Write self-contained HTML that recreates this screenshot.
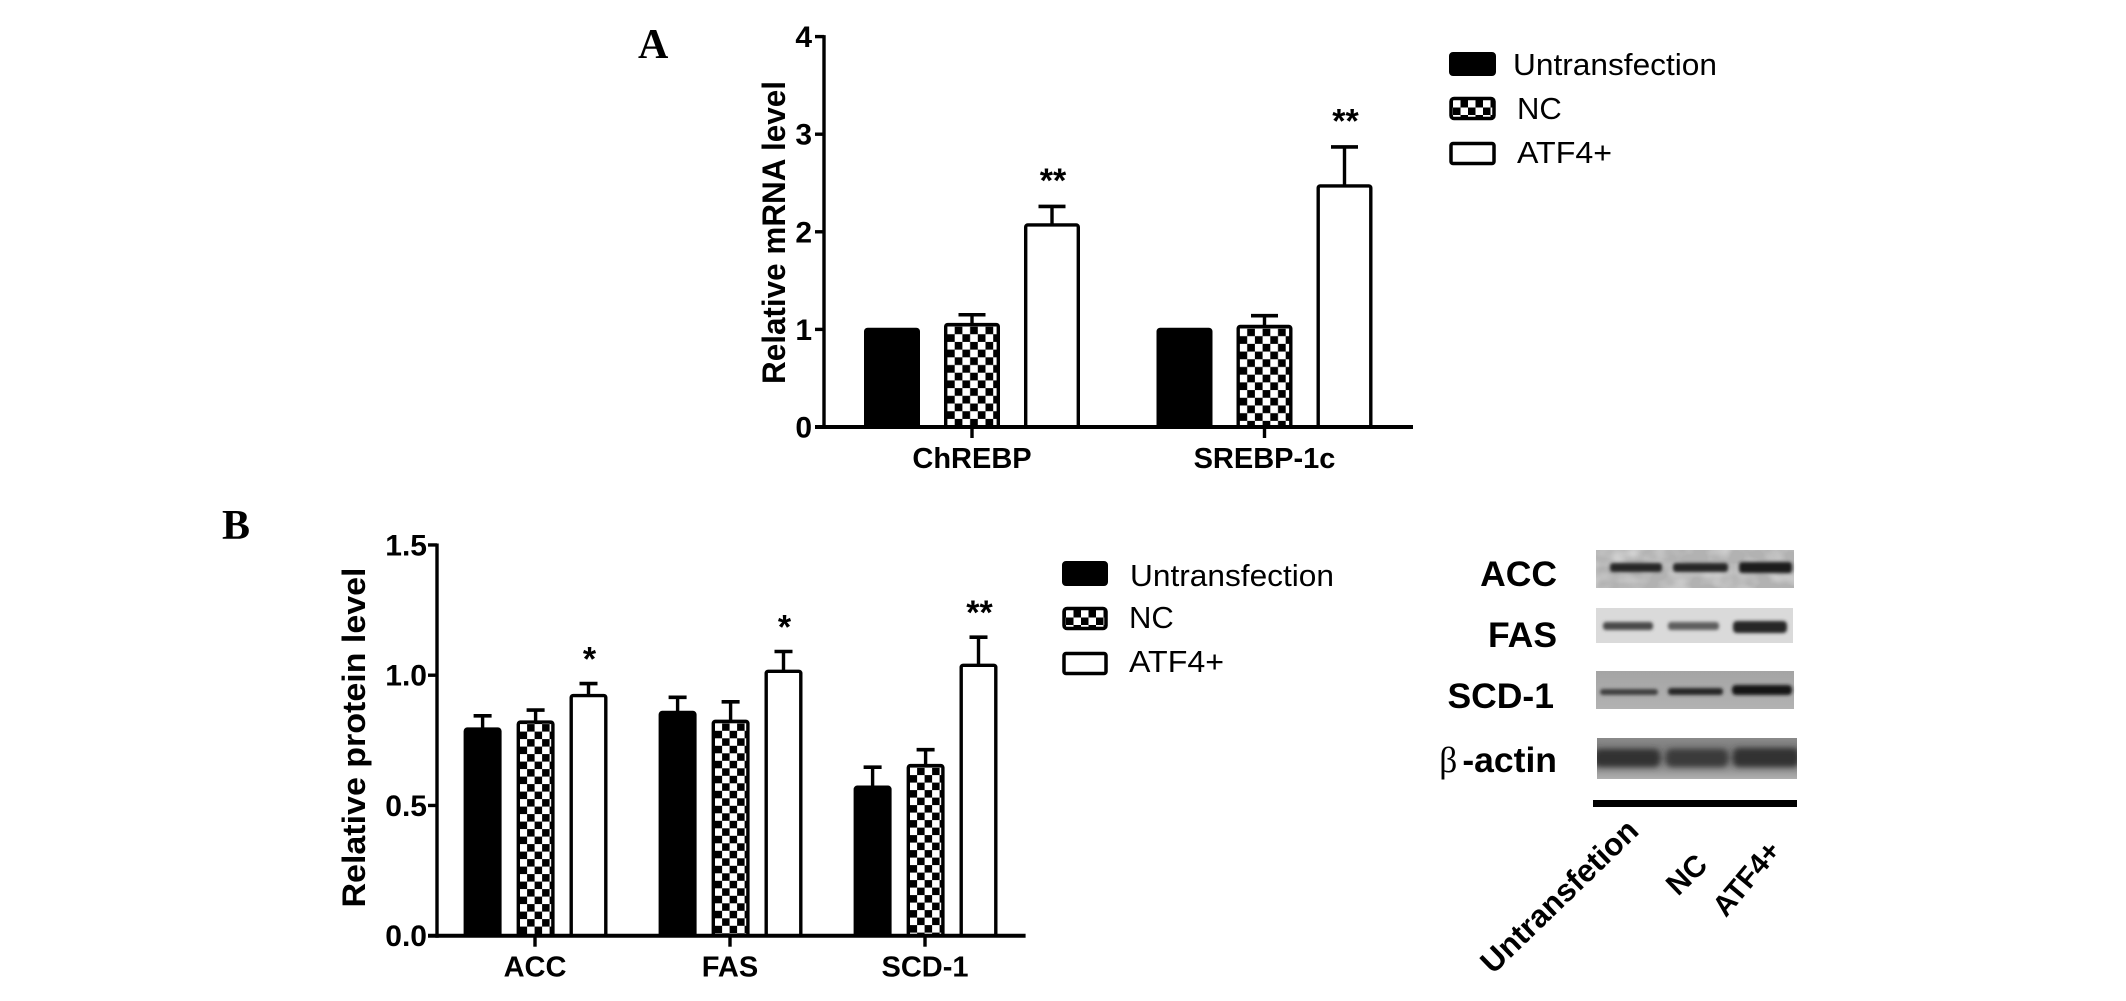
<!DOCTYPE html>
<html lang="en">
<head>
<meta charset="utf-8">
<title>Relative mRNA and protein levels</title>
<style>
  html, body { margin: 0; padding: 0; background: #fff; }
  svg { display: block; }
  text { font-family: "Liberation Sans", sans-serif; fill: #000; }
  .b { font-weight: bold; }
  .s { font-family: "Liberation Serif", serif; font-weight: bold; }
</style>
</head>
<body>
<svg id="fig" xmlns="http://www.w3.org/2000/svg" width="2126" height="1001" viewBox="0 0 2126 1001">
  <defs>
    <filter id="blur2" x="-20%" y="-150%" width="140%" height="400%"><feGaussianBlur stdDeviation="1.5"/></filter>
    <filter id="blur3" x="-20%" y="-100%" width="140%" height="300%"><feGaussianBlur stdDeviation="3"/></filter>
    <filter id="mottle" x="0" y="0" width="100%" height="100%">
      <feTurbulence type="fractalNoise" baseFrequency="0.045 0.06" numOctaves="2" seed="4"/>
      <feColorMatrix values="0 0 0 0 1  0 0 0 0 1  0 0 0 0 1  1.8 0 0 0 -0.7"/>
    </filter>
    <linearGradient id="scd-bg" x1="0" y1="0" x2="0" y2="1">
      <stop offset="0" stop-color="#a4a4a4"/><stop offset="1" stop-color="#b2b2b2"/>
    </linearGradient>
    <linearGradient id="actin-bg" x1="0" y1="0" x2="0" y2="1">
      <stop offset="0" stop-color="#8a8a8a"/><stop offset="0.5" stop-color="#707070"/><stop offset="1" stop-color="#b0b0b0"/>
    </linearGradient>
    <clipPath id="clip-actin"><rect x="1597" y="738" width="200" height="41"/></clipPath>
    <pattern id="legend-check" patternUnits="userSpaceOnUse" width="15" height="15" x="1453" y="100">
      <rect width="15" height="15" fill="#000"/>
      <rect x="0" y="0" width="7.5" height="7.5" fill="#fff"/>
      <rect x="7.5" y="7.5" width="7.5" height="7.5" fill="#fff"/>
    </pattern>
    <pattern id="legend-check-b" patternUnits="userSpaceOnUse" width="15" height="15" x="1066" y="610">
      <rect width="15" height="15" fill="#000"/>
      <rect x="0" y="0" width="7.5" height="7.5" fill="#fff"/>
      <rect x="7.5" y="7.5" width="7.5" height="7.5" fill="#fff"/>
    </pattern>
  </defs>

  <text class="s" x="638" y="58" font-size="42">A</text>
  <text class="s" x="222" y="539" font-size="42">B</text>

  <g id="chart-a"></g>
  <g id="chart-b"></g>

  <g>
    <rect x="1450" y="53" width="45" height="22" rx="3" fill="#000" stroke="#000" stroke-width="2"/>
    <text x="1513" y="75" font-size="31" textLength="204" lengthAdjust="spacingAndGlyphs">Untransfection</text>
    <rect x="1451" y="98.5" width="43" height="20" rx="3" fill="url(#legend-check)" stroke="#000" stroke-width="3.5"/>
    <text x="1517" y="119" font-size="31">NC</text>
    <rect x="1451" y="143.5" width="43" height="20" rx="2" fill="#fff" stroke="#000" stroke-width="3.5"/>
    <text x="1517" y="163" font-size="31" textLength="95" lengthAdjust="spacingAndGlyphs">ATF4+</text>
  </g>

  <g>
    <rect x="1063" y="562" width="44" height="23" rx="3" fill="#000" stroke="#000" stroke-width="2"/>
    <text x="1130" y="586" font-size="31" textLength="204" lengthAdjust="spacingAndGlyphs">Untransfection</text>
    <rect x="1064" y="608.5" width="42" height="20" rx="3" fill="url(#legend-check-b)" stroke="#000" stroke-width="3.5"/>
    <text x="1129" y="628" font-size="31">NC</text>
    <rect x="1064" y="653.5" width="42" height="20" rx="2" fill="#fff" stroke="#000" stroke-width="3.5"/>
    <text x="1129" y="672" font-size="31" textLength="95" lengthAdjust="spacingAndGlyphs">ATF4+</text>
  </g>

  <g>
    <text class="b" x="1557" y="586" font-size="35.5" text-anchor="end">ACC</text>
    <text class="b" x="1557" y="647" font-size="35.5" text-anchor="end">FAS</text>
    <text class="b" x="1554" y="708" font-size="35.5" text-anchor="end">SCD-1</text>
    <text class="b" x="1557" y="772" font-size="35.5" text-anchor="end"><tspan font-family="Liberation Serif, serif" font-weight="normal">β</tspan><tspan dx="5">-actin</tspan></text>

    <g>
      <rect x="1596" y="550" width="198" height="38" fill="#b2b2b2"/>
      <rect x="1596" y="550" width="198" height="38" filter="url(#mottle)" opacity="0.55"/>
      <rect x="1610" y="563" width="52" height="9" rx="3" fill="#262626" filter="url(#blur2)"/>
      <rect x="1673" y="563" width="55" height="9" rx="3" fill="#262626" filter="url(#blur2)"/>
      <rect x="1739" y="562" width="53" height="11" rx="3" fill="#1e1e1e" filter="url(#blur2)"/>
    </g>
    <g>
      <rect x="1596" y="608" width="197" height="35" fill="#dadada"/>
      <rect x="1603" y="622" width="50" height="8" rx="3" fill="#484848" filter="url(#blur2)"/>
      <rect x="1668" y="622" width="51" height="8" rx="3" fill="#5e5e5e" filter="url(#blur2)"/>
      <rect x="1733" y="621" width="54" height="12" rx="4" fill="#262626" filter="url(#blur2)"/>
    </g>
    <g>
      <rect x="1596" y="671" width="198" height="38" fill="url(#scd-bg)"/>
      <rect x="1600" y="689" width="58" height="6" rx="3" fill="#404040" filter="url(#blur2)"/>
      <rect x="1668" y="688" width="55" height="7" rx="3" fill="#282828" filter="url(#blur2)"/>
      <rect x="1732" y="685" width="60" height="10" rx="4" fill="#141414" filter="url(#blur2)"/>
    </g>
    <g clip-path="url(#clip-actin)">
      <rect x="1597" y="738" width="200" height="41" fill="url(#actin-bg)"/>
      <rect x="1594" y="749" width="66" height="18" rx="6" fill="#333" filter="url(#blur3)"/>
      <rect x="1666" y="749" width="62" height="18" rx="6" fill="#3a3a3a" filter="url(#blur3)"/>
      <rect x="1733" y="748" width="66" height="19" rx="6" fill="#333" filter="url(#blur3)"/>
    </g>
    <rect x="1593" y="800" width="204" height="7" fill="#000"/>
    <text class="b" font-size="31.5" text-anchor="middle" dominant-baseline="central" transform="translate(1559 896) rotate(-44)">Untransfetion</text>
    <text class="b" font-size="30" text-anchor="middle" dominant-baseline="central" transform="translate(1687 875) rotate(-44)">NC</text>
    <text class="b" font-size="29" text-anchor="middle" dominant-baseline="central" transform="translate(1747 879) rotate(-50)">ATF4+</text>
  </g>
</svg>

<script>
// Panel A data
const categoriesA = ['ChREBP', 'SREBP-1c'];
const untransfectionA = [1.0, 1.0];
const ncA = [1.05, 1.03];
const atf4A = [2.07, 2.47];
const untransfectionErrA = [0, 0];
const ncErrA = [0.10, 0.11];
const atf4ErrA = [0.19, 0.40];
const starsA = ['**', '**'];
const yTicksA = ['0', '1', '2', '3', '4'];

// Panel B data
const categoriesB = ['ACC', 'FAS', 'SCD-1'];
const untransfectionB = [0.793, 0.857, 0.57];
const ncB = [0.82, 0.823, 0.653];
const atf4B = [0.922, 1.015, 1.038];
const untransfectionErrB = [0.051, 0.058, 0.077];
const ncErrB = [0.046, 0.075, 0.061];
const atf4ErrB = [0.046, 0.076, 0.108];
const starsB = ['*', '*', '**'];
const yTicksB = ['0.0', '0.5', '1.0', '1.5'];

const NS = 'http://www.w3.org/2000/svg';
const defs = document.querySelector('#fig defs');

function mk(parent, tag, attrs, txt) {
  const el = document.createElementNS(NS, tag);
  for (const k in attrs) el.setAttribute(k, attrs[k]);
  if (txt !== undefined) el.textContent = txt;
  parent.appendChild(el);
  return el;
}

function drawChart(root, cfg) {
  const series = [
    { key: 'untransfection', vals: cfg.s0, errs: cfg.e0, fill: '#000' },
    { key: 'nc', vals: cfg.s1, errs: cfg.e1, fill: 'check' },
    { key: 'atf4', vals: cfg.s2, errs: cfg.e2, fill: '#fff' }
  ];

  series.forEach((s, si) => {
    s.vals.forEach((v, ci) => {
      const cx = cfg.x(ci) + cfg.off[si];
      const top = cfg.y(v);
      const base = cfg.y(0);
      const left = cx - cfg.barW / 2;
      const err = s.errs[ci];

      if (err > 0) {
        const et = cfg.y(v + err);
        const stem = mk(root, 'line', { x1: cx, x2: cx, y1: et, y2: top, stroke: '#000', 'stroke-width': 3.4 });
        
        
        const cap = mk(root, 'line', { x1: cx - cfg.capW / 2, x2: cx + cfg.capW / 2, y1: et, y2: et, stroke: '#000', 'stroke-width': 3.6 });
        
        
      }

      let fill = s.fill;
      if (fill === 'check') {
        const id = cfg.id + '-check-' + ci;
        const cell = cfg.cell;
        const p = mk(defs, 'pattern', { id: id, patternUnits: 'userSpaceOnUse', width: cell * 2, height: cell * 2, x: left + 3, y: top + 2 });
        mk(p, 'rect', { width: cell * 2, height: cell * 2, fill: '#000' });
        mk(p, 'rect', { x: 0, y: 0, width: cell, height: cell, fill: '#fff' });
        mk(p, 'rect', { x: cell, y: cell, width: cell, height: cell, fill: '#fff' });
        fill = 'url(#' + id + ')';
      }
      const bar = mk(root, 'rect', {
        x: left + 1.7, y: top,
        width: cfg.barW - 3.4, height: Math.max(0, base - top),
        rx: 2, fill: fill, stroke: '#000', 'stroke-width': 3.4
      });
      
      
    });
  });

  // significance stars above the ATF4+ bars
  cfg.stars.forEach((t, ci) => {
    const cx = cfg.x(ci) + cfg.off[2];
    const st = mk(root, 'text', {
      x: cx + cfg.starDx, y: cfg.y(cfg.s2[ci] + cfg.e2[ci]) - cfg.starGap,
      'font-size': 34, 'font-weight': 'bold', 'text-anchor': 'middle'
    }, t);
    
    
  });

  // axes
  const yAxis = mk(root, 'line', { x1: cfg.axisX, x2: cfg.axisX, y1: cfg.y(cfg.yMax) - 1.5, y2: cfg.y(0) + 2, stroke: '#000', 'stroke-width': 3.4 });
  
  
  const xAxis = mk(root, 'line', { x1: cfg.axisX - 9, x2: cfg.axisEnd, y1: cfg.y(0), y2: cfg.y(0), stroke: '#000', 'stroke-width': 4 });
  
  

  cfg.ticks.forEach(t => {
    const py = cfg.y(parseFloat(t));
    const tk = mk(root, 'line', { x1: cfg.axisX - 9, x2: cfg.axisX, y1: py, y2: py, stroke: '#000', 'stroke-width': 3.4 });
    
    
    const lb = mk(root, 'text', { x: cfg.axisX - cfg.labelGap, y: py + 10.5, 'font-size': 30, 'font-weight': 'bold', 'text-anchor': 'end' }, t);
    
    
  });

  cfg.cats.forEach((c, ci) => {
    const px = cfg.x(ci);
    const tk = mk(root, 'line', { x1: px, x2: px, y1: cfg.y(0), y2: cfg.y(0) + 11, stroke: '#000', 'stroke-width': 3.4 });
    
    
    const lb = mk(root, 'text', { x: px, y: cfg.y(0) + 41, 'font-size': 29, 'font-weight': 'bold', 'text-anchor': 'middle' }, c);
    
    
  });

  const title = mk(root, 'text', {
    'font-size': 32.5, 'font-weight': 'bold', 'text-anchor': 'middle',
    'xml:space': 'preserve',
    textLength: cfg.titleLen, lengthAdjust: 'spacingAndGlyphs',
    transform: 'translate(' + cfg.titleX + ' ' + cfg.titleY + ') rotate(-90)'
  }, cfg.title);
  
  
}

drawChart(document.getElementById('chart-a'), {
  id: 'a',
  cats: categoriesA,
  s0: untransfectionA, s1: ncA, s2: atf4A,
  e0: untransfectionErrA, e1: ncErrA, e2: atf4ErrA,
  stars: starsA, ticks: yTicksA, yMax: 4,
  x: i => 972 + i * 292.5,
  y: v => 427 - v * 97.6,
  off: [-80, 0, 80], barW: 56, capW: 27, cell: 7.7, starGap: 14.5, starDx: 1,
  labelGap: 12,
  axisX: 824, axisEnd: 1413,
  title: 'Relative mRNA level', titleX: 785, titleY: 232.5, titleLen: 303
});

drawChart(document.getElementById('chart-b'), {
  id: 'b',
  cats: categoriesB,
  s0: untransfectionB, s1: ncB, s2: atf4B,
  e0: untransfectionErrB, e1: ncErrB, e2: atf4ErrB,
  stars: starsB, ticks: yTicksB, yMax: 1.5,
  x: i => 535 + i * 195,
  y: v => 935.7 - v * 260.5,
  off: [-52.4, 0.6, 53.5], barW: 38, capW: 18, cell: 7.5, starGap: 13, starDx: 1,
  labelGap: 10,
  axisX: 437, axisEnd: 1025.6,
  title: 'Relative  protein level', titleX: 365, titleY: 737.5, titleLen: 340
});
</script>
</body>
</html>
